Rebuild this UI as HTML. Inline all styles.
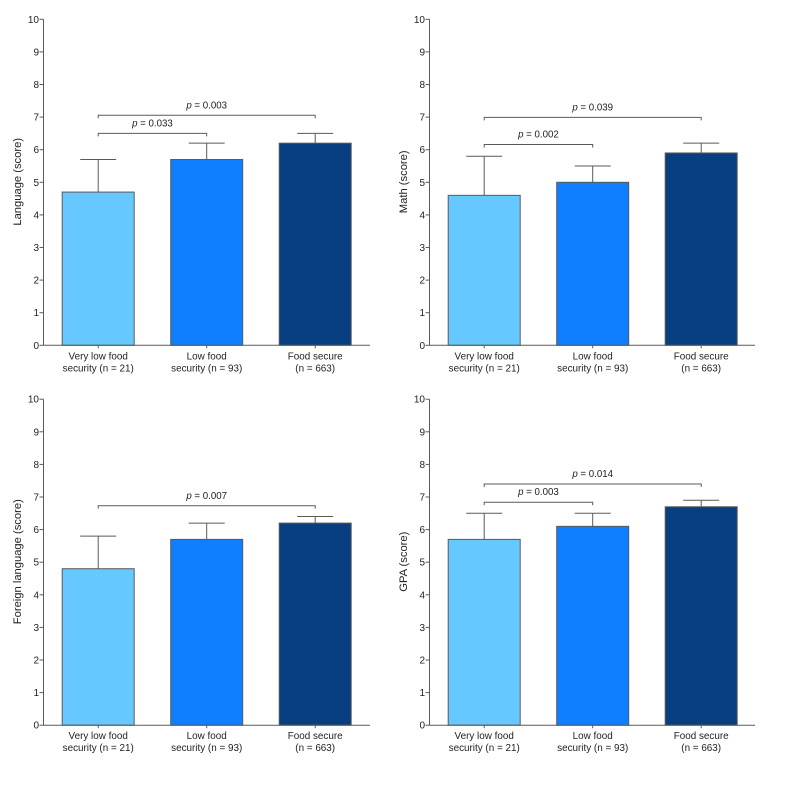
<!DOCTYPE html>
<html>
<head>
<meta charset="utf-8">
<style>
html,body{margin:0;padding:0;background:#fff;width:787px;height:805px;overflow:hidden}
svg{display:block;font-family:"Liberation Sans",sans-serif;fill:#222}
</style>
</head>
<body>
<svg id="chart" width="787" height="805" viewBox="0 0 787 805" xmlns="http://www.w3.org/2000/svg"></svg>
<script>
const categoryLine1 = ["Very low food", "Low food", "Food secure"];
const categoryLine2 = ["security (n = 21)", "security (n = 93)", "(n = 663)"];
const tickLabels = [0, 1, 2, 3, 4, 5, 6, 7, 8, 9, 10];
const panelTitles = ["Language (score)", "Math (score)", "Foreign language (score)", "GPA (score)"];
const languageMeans = [4.7, 5.7, 6.2];
const languageUpper = [5.7, 6.2, 6.5];
const mathMeans = [4.6, 5.0, 5.9];
const mathUpper = [5.8, 5.5, 6.2];
const foreignMeans = [4.8, 5.7, 6.2];
const foreignUpper = [5.8, 6.2, 6.4];
const gpaMeans = [5.7, 6.1, 6.7];
const gpaUpper = [6.5, 6.5, 6.9];
const languageBrackets = [{a: 0, b: 2, level: 7.055, label: "0.003"}, {a: 0, b: 1, level: 6.5, label: "0.033"}];
const mathBrackets = [{a: 0, b: 2, level: 6.99, label: "0.039"}, {a: 0, b: 1, level: 6.16, label: "0.002"}];
const foreignBrackets = [{a: 0, b: 2, level: 6.73, label: "0.007"}];
const gpaBrackets = [{a: 0, b: 2, level: 7.4, label: "0.014"}, {a: 0, b: 1, level: 6.84, label: "0.003"}];
const allMeans = [languageMeans, mathMeans, foreignMeans, gpaMeans];
const allUpper = [languageUpper, mathUpper, foreignUpper, gpaUpper];
const allBrackets = [languageBrackets, mathBrackets, foreignBrackets, gpaBrackets];

const svg = document.getElementById('chart');
const NS = 'http://www.w3.org/2000/svg';
const barColors = ['#66c8ff', '#0f7fff', '#073f80'];
const ink = '#5a5a5a';
const frames = [
  {x0: 43.5, bottom: 345.3, right: 370},
  {x0: 429.5, bottom: 345.3, right: 755},
  {x0: 43.5, bottom: 725.2, right: 370},
  {x0: 429.5, bottom: 725.2, right: 755}
];
const panelKeys = ['language', 'math', 'foreign-language', 'gpa'];

function make(tag, attrs, parent) {
  const el = document.createElementNS(NS, tag);
  for (const k in attrs) el.setAttribute(k, attrs[k]);
  parent.appendChild(el);
  return el;
}
function segment(parent, x1, y1, x2, y2) {
  return make('line', {x1: x1, y1: y1, x2: x2, y2: y2, stroke: ink, 'stroke-width': 1}, parent);
}

frames.forEach(function (f, p) {
  const yScale = function (v) { return f.bottom - v * 32.6; };
  const xScale = function (i) { return f.x0 + 54.7 + i * 108.5; };
  const key = panelKeys[p];

  const g = make('g', {}, svg);
  
  

  allMeans[p].forEach(function (v, i) {
    const bar = make('rect', {
      x: xScale(i) - 36, y: yScale(v), width: 72, height: f.bottom - yScale(v),
      fill: barColors[i], stroke: ink, 'stroke-width': 1
    }, g);
    
    

    const err = make('g', {}, g);
    
    
    segment(err, xScale(i), yScale(v), xScale(i), yScale(allUpper[p][i]));
    segment(err, xScale(i) - 18, yScale(allUpper[p][i]), xScale(i) + 18, yScale(allUpper[p][i]));
  });

  const yAxis = make('g', {}, g);
  
  
  segment(yAxis, f.x0, yScale(10), f.x0, f.bottom);
  tickLabels.forEach(function (t) {
    segment(yAxis, f.x0 - 4, yScale(t), f.x0, yScale(t));
    const lab = make('text', {x: f.x0 - 4.5, y: yScale(t) + 3.5, 'text-anchor': 'end', 'font-size': 10}, yAxis);
    lab.textContent = t;
  });

  const xAxis = make('g', {}, g);
  
  
  segment(xAxis, f.x0, f.bottom, f.right, f.bottom);
  categoryLine1.forEach(function (c, i) {
    segment(xAxis, xScale(i), f.bottom, xScale(i), f.bottom + 3);
    const lab = make('text', {'text-anchor': 'middle', 'font-size': 9.9}, xAxis);
    const a = make('tspan', {x: xScale(i), y: f.bottom + 14}, lab);
    a.textContent = c;
    const b = make('tspan', {x: xScale(i), y: f.bottom + 26}, lab);
    b.textContent = categoryLine2[i];
  });

  const title = make('text', {
    transform: 'translate(' + (f.x0 - 22.5) + ' ' + (yScale(5) - 0.5) + ') rotate(-90)',
    'text-anchor': 'middle', 'font-size': 11.2
  }, g);
  
  
  title.textContent = panelTitles[p];

  allBrackets[p].forEach(function (br, j) {
    const b = make('g', {}, g);
    
    
    const y = yScale(br.level);
    make('path', {
      d: 'M' + xScale(br.a) + ' ' + (y + 3) + 'V' + y + 'H' + xScale(br.b) + 'V' + (y + 3),
      fill: 'none', stroke: ink, 'stroke-width': 1
    }, b);
    const txt = make('text', {
      x: (xScale(br.a) + xScale(br.b)) / 2, y: y - 7,
      'text-anchor': 'middle', 'font-size': 9.7
    }, b);
    const it = make('tspan', {'font-style': 'italic'}, txt);
    it.textContent = 'p';
    const rest = make('tspan', {}, txt);
    rest.textContent = ' = ' + br.label;
  });
});
</script>
</body>
</html>
